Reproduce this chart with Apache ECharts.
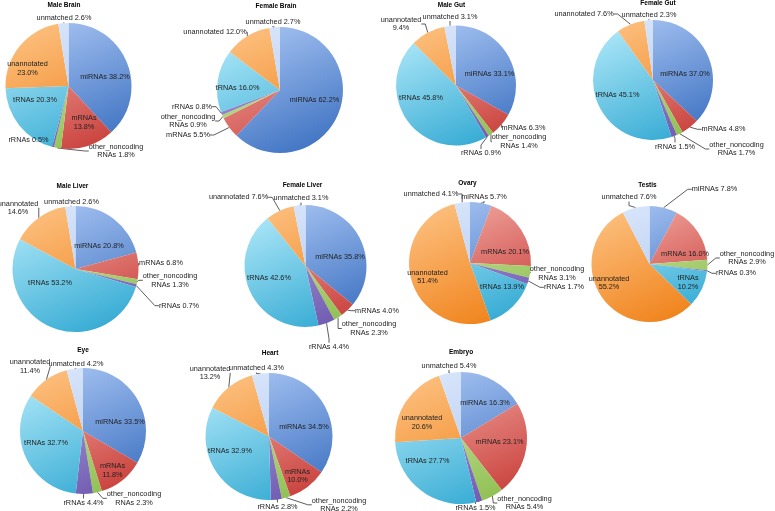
<!DOCTYPE html>
<html>
<head>
<meta charset="utf-8">
<script src="https://cdn.jsdelivr.net/npm/echarts@6/dist/echarts.min.js"></script>
<style>
html,body{margin:0;padding:0;background:#fff;}
#chart{width:775px;height:511px;}
</style>
</head>
<body>
<div id="chart"></div>
<script>
// ---- data ----
var categories = ['miRNAs','mRNAs','other_noncoding RNAs','rRNAs','tRNAs','unannotated','unmatched'];
var tissues = ['Male Brain','Female Brain','Male Gut','Female Gut','Male Liver','Female Liver','Ovary','Testis','Eye','Heart','Embryo'];
var maleBrain   = [38.2, 13.8, 1.8, 0.5, 20.3, 23.0, 2.6];
var femaleBrain = [62.2, 5.5, 0.9, 0.8, 16.0, 12.0, 2.7];
var maleGut     = [33.1, 6.3, 1.4, 0.9, 45.8, 9.4, 3.1];
var femaleGut   = [37.0, 4.8, 1.7, 1.5, 45.1, 7.6, 2.3];
var maleLiver   = [20.8, 6.8, 1.3, 0.7, 53.2, 14.6, 2.6];
var femaleLiver = [35.8, 4.0, 2.3, 4.4, 42.6, 7.6, 3.1];
var ovary       = [5.7, 20.1, 3.1, 1.7, 13.9, 51.4, 4.1];
var testis      = [7.8, 16.0, 2.9, 0.3, 10.2, 55.2, 7.6];
var eye         = [33.5, 11.8, 2.3, 4.4, 32.7, 11.4, 4.2];
var heart       = [34.5, 10.0, 2.2, 2.8, 32.9, 13.2, 4.3];
var embryo      = [16.3, 23.1, 5.4, 1.5, 27.7, 20.6, 5.4];
var values = [maleBrain, femaleBrain, maleGut, femaleGut, maleLiver, femaleLiver, ovary, testis, eye, heart, embryo];

// ---- layout / style (not data) ----
var centers = [[68.5,86],[280,90],[456,85.5],[653,80],[75.5,269],[305.5,266],[470,263],[649.5,264],[83,431],[269,436.5],[461,438]];
var radii   = [63,63,60,60,63,61,61,58,63,63.5,66];
var titleCenters = [[64,5],[276,6.5],[451.5,5],[658,3],[72.5,186.5],[302.5,185],[467.5,183.5],[647.5,185],[83,350.5],[270,353],[461,352]];
var insideCats = [
  [0,1,4,5],[0,4],[0,4],[0,4],[0,4],[0,4],[1,4,5],[1,4,5],[0,1,4],[0,1,4],[0,1,4,5]
];
var wrapCats = [
  [1,2,5],[2],[2,5],[2],[2,5],[2],[2,5],[2,4,5],[1,2,5],[1,2,5],[2,5]
];
// label text centres, offset from pie centre: {category index: [dx, dy]}
var labelOffsets = [
  {0:[36.5,-9], 1:[15.5,36.5], 4:[-33.5,14], 5:[-41,-17.5], 6:[-4.5,-67.7], 3:[-40,54], 2:[47.5,65]},
  {0:[34.5,10], 4:[-42.5,-2], 6:[-7,-68.3], 5:[-65,-57.7], 3:[-88,16.7], 2:[-92,31], 1:[-92,45]},
  {0:[33.5,-11.5], 4:[-35,12.5], 5:[-55,-61.5], 6:[-6,-68.8], 1:[67.5,42.2], 2:[63,56.2], 3:[25,67.8]},
  {0:[32,-6], 4:[-35.5,15], 5:[-69,-66], 6:[-4,-65], 1:[70.5,49.3], 2:[83.5,69], 3:[22,66.7]},
  {0:[23.5,-23], 4:[-25.5,13.7], 5:[-57.5,-61], 6:[-4,-67.3], 1:[85.5,-5.7], 2:[94.5,11.3], 3:[103.5,36.7]},
  {0:[34.5,-9.3], 4:[-36.5,12], 5:[-67,-68.7], 6:[-4.5,-67.7], 1:[71.5,44.7], 2:[63.5,62.5], 3:[23.5,81]},
  {1:[35,-11.3], 5:[-42.5,14], 4:[32,23.7], 6:[-39,-69], 0:[14,-66.3], 2:[87,10.3], 3:[94,24.3]},
  {1:[35.5,-9.7], 5:[-40.5,19], 4:[38.5,18.5], 6:[-20.5,-66.7], 0:[65,-74.7], 2:[97.5,-6], 3:[86.5,9.3]},
  {0:[37,-9.3], 4:[-37,12.3], 1:[29.5,39.3], 5:[-53,-64.7], 6:[-7,-67], 3:[0.5,71.7], 2:[51,67.3]},
  {0:[35,-9.2], 4:[-39,14.5], 1:[28.5,39.3], 5:[-59,-63.7], 6:[-12.5,-68.2], 3:[8.5,70.2], 2:[70,68.3]},
  {0:[24,-35.3], 1:[38.5,3.7], 5:[-39,-15.5], 4:[-33.5,23], 6:[-12,-72.3], 3:[14.5,70.3], 2:[63.5,65]}
];
var colorStops = [
  ['#a6c3f2','#3f73c2'],
  ['#f4aca6','#c9403b'],
  ['#d0e9a6','#8fbf52'],
  ['#b3a5de','#6f5ab0'],
  ['#ade7f8','#34aad3'],
  ['#fcbf7e','#f0821a'],
  ['#d9e6fb','#aec6ee']
];
function grad(i, k){
  var cx = centers[k][0], cy = centers[k][1], r = radii[k];
  return new echarts.graphic.LinearGradient(cx - 0.45*r, cy - r, cx + 0.45*r, cy + r, [
    {offset:0,color:colorStops[i][0]},{offset:1,color:colorStops[i][1]}], true);
}

var FONT = '"Liberation Sans", Arial, sans-serif';
var titles = [], series = [];
tissues.forEach(function(t, k){
  titles.push({
    text: t, left: titleCenters[k][0], top: titleCenters[k][1] - 4, textAlign: 'center', padding: 0,
    textStyle: {fontFamily: FONT, fontSize: 6.5, fontWeight: 'bold', color: '#000', lineHeight: 8}
  });
  var data = categories.map(function(c, i){
    var inside = insideCats[k].indexOf(i) >= 0;
    var wrap = wrapCats[k].indexOf(i) >= 0;
    var txt = c + ' ' + values[k][i].toFixed(1) + '%';
    if (wrap) txt = txt.replace(' ', '\n');
    return {
      name: c, value: values[k][i],
      itemStyle: {color: grad(i, k)},
      label: {
        position: inside ? 'inside' : 'outside',
        formatter: txt,
        align: 'center'
      },
      labelLine: {show: !inside}
    };
  });
  series.push({
    type: 'pie', center: centers[k], radius: radii[k],
    startAngle: 90, clockwise: true, animation: false,
    avoidLabelOverlap: false,
    label: {fontFamily: FONT, fontSize: 7.3, color: '#222', lineHeight: 8.5, overflow: 'none'},
    labelLine: {length: 4, length2: 4, lineStyle: {color: '#333', width: 0.8}},
    labelLayout: function(p){
      var off = labelOffsets[k][p.dataIndex];
      if (!off) return;
      return {
        x: centers[k][0] + off[0], y: centers[k][1] + off[1],
        align: 'center', verticalAlign: 'middle'
      };
    },
    itemStyle: {borderWidth: 0},
    emphasis: {disabled: true},
    data: data
  });
});

var chart = echarts.init(document.getElementById('chart'), null, {renderer: 'canvas'});
chart.setOption({backgroundColor: '#fff', title: titles, series: series});
</script>
</body>
</html>
